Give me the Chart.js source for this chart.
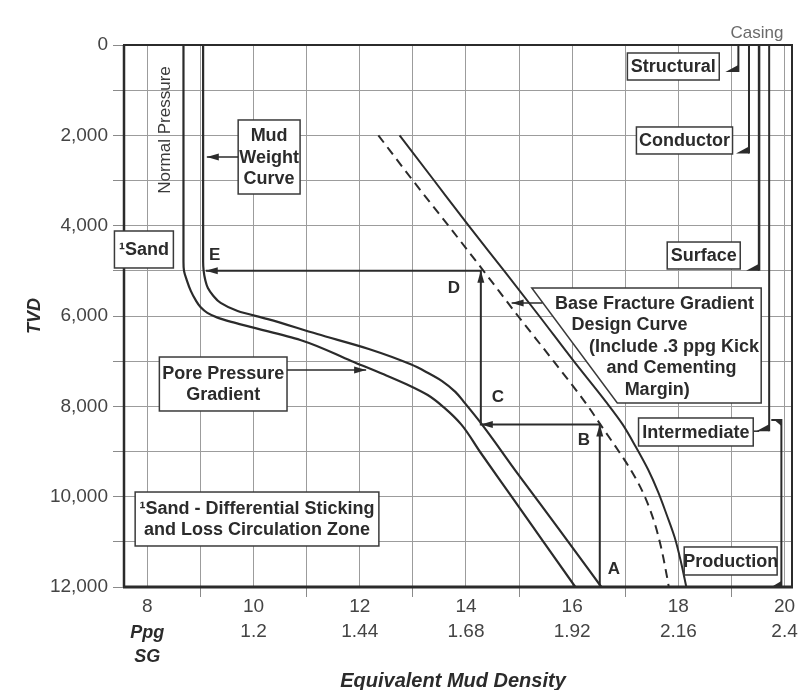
<!DOCTYPE html>
<html>
<head>
<meta charset="utf-8">
<script src="https://cdn.jsdelivr.net/npm/chart.js@4.4.0/dist/chart.umd.min.js"></script>
<style>
html,body{margin:0;padding:0;background:#fff;}
canvas{display:block;}
</style>
</head>
<body>
<canvas id="c" width="801" height="690"></canvas>
<script>
// ---------------- data ----------------
const ppgTickValues = [8, 10, 12, 14, 16, 18, 20];
const sgTickLabels  = ['', '1.2', '1.44', '1.68', '1.92', '2.16', '2.4'];
const depthTickValues = [0, 2000, 4000, 6000, 8000, 10000, 12000];

// Pore pressure gradient (ppg vs TVD ft)
const poreDepth = [0, 4800, 5000, 5200, 5450, 5650, 5800, 5930, 6030, 6130, 6240, 6530, 7000, 7290, 7510, 7750, 8040, 8400, 9000, 10000, 11000, 12000];
const porePpg   = [8.68, 8.68, 8.69, 8.74, 8.82, 8.91, 9.0, 9.13, 9.31, 9.58, 9.94, 10.88, 11.85, 12.45, 12.88, 13.28, 13.6, 13.91, 14.26, 14.86, 15.46, 16.06];

// Mud weight curve
const mudDepth = [0, 4800, 5000, 5200, 5380, 5550, 5710, 5890, 6070, 6400, 6730, 7070, 7250, 7440, 7680, 7930, 8400, 9500, 10700, 12000];
const mudPpg   = [9.05, 9.05, 9.06, 9.09, 9.14, 9.24, 9.38, 9.7, 10.27, 11.2, 12.17, 12.96, 13.27, 13.55, 13.8, 13.98, 14.3, 14.98, 15.74, 16.55];

// Fracture gradient (solid)
const fracDepth = [2000, 3000, 4000, 5000, 6000, 7000, 7890, 8400, 8900, 9400, 9900, 10400, 10900, 11450, 12000];
const fracPpg   = [12.75, 13.4, 14.05, 14.72, 15.38, 16.03, 16.63, 16.95, 17.2, 17.43, 17.62, 17.78, 17.93, 18.05, 18.15];

// Base fracture gradient design curve (dashed)
const designCurveDepth = [2000, 3000, 4000, 5000, 6000, 7000, 8000, 8400, 9000, 9400, 9900, 10500, 11100, 11800, 12000];
const designCurvePpg   = [12.35, 13.0, 13.67, 14.33, 14.98, 15.65, 16.3, 16.53, 16.88, 17.1, 17.33, 17.53, 17.67, 17.79, 17.82];

// Casing seat selection path A -> B -> C -> D -> E
const pathLabels = ['A', 'B', 'C', 'D', 'E'];
const pathPpg    = [16.52, 16.52, 14.28, 14.28, 9.1];
const pathDepth  = [12000, 8400, 8400, 5000, 5000];

// Casing strings
const casingNames = ['Structural', 'Conductor', 'Surface', 'Intermediate', 'Production'];
const casingTop   = [0, 0, 0, 0, 8300];
const casingShoe  = [600, 2400, 5000, 8550, 12000];

// ---------------- presentation ----------------
const FONT = '"Liberation Sans", Arial, Helvetica, sans-serif';
Chart.defaults.font.family = FONT;
const INK = '#2b2b2b';
const GRID = '#9c9c9c';
const casingLane = [19.13, 19.33, 19.52, 19.71, 19.94]; // schematic column positions

const pts = (xs, ys) => xs.map((v, i) => ({x: v, y: ys[i]}));

const curveStyle = {
  showLine: true, pointRadius: 0, borderColor: INK, borderWidth: 2.2,
  indexAxis: 'y', cubicInterpolationMode: 'monotone', fill: false
};

const datasets = [
  Object.assign({label: 'Pore Pressure Gradient', data: pts(porePpg, poreDepth)}, curveStyle),
  Object.assign({label: 'Mud Weight Curve', data: pts(mudPpg, mudDepth)}, curveStyle),
  Object.assign({label: 'Fracture Gradient', data: pts(fracPpg, fracDepth)}, curveStyle, {borderWidth: 2}),
  Object.assign({label: 'Base Fracture Gradient Design Curve', data: pts(designCurvePpg, designCurveDepth)}, curveStyle, {borderWidth: 2, borderDash: [9, 6]}),
  {label: 'Design path', data: pts(pathPpg, pathDepth), showLine: true, pointRadius: 0, borderColor: INK, borderWidth: 2, tension: 0}
];
casingNames.forEach((name, i) => {
  const lane = casingLane[i];
  const d = [];
  if (casingTop[i] > 0) d.push({x: lane - 0.19, y: casingTop[i]});
  d.push({x: lane, y: casingTop[i]});
  d.push({x: lane, y: casingShoe[i]});
  datasets.push({label: name + ' casing', data: d, showLine: true, pointRadius: 0, borderColor: INK, borderWidth: i === 2 ? 2.5 : 2, tension: 0});
});

// label boxes (in data units: ppg, ft)
const boxes = [
  {x0: 9.71, x1: 10.876, y0: 1660, y1: 3299, lines: ['Mud', 'Weight', 'Curve'], gap: 21.5},
  {x0: 8.226, x1: 10.63, y0: 6908, y1: 8103, lines: ['Pore Pressure', 'Gradient'], gap: 21},
  {x0: 7.38, x1: 8.49, y0: 4118, y1: 4937, lines: ['\u00B9Sand'], gap: 21},
  {x0: 7.77, x1: 12.36, y0: 9897, y1: 11092, lines: ['\u00B9Sand - Differential Sticking', 'and Loss Circulation Zone'], gap: 21},
  {x0: 17.04, x1: 18.77, y0: 177, y1: 775, lines: ['Structural'], gap: 21},
  {x0: 17.21, x1: 19.02, y0: 1815, y1: 2413, lines: ['Conductor'], gap: 21},
  {x0: 17.79, x1: 19.165, y0: 4362, y1: 4959, lines: ['Surface'], gap: 21},
  {x0: 17.25, x1: 19.41, y0: 8258, y1: 8878, lines: ['Intermediate'], gap: 21},
  {x0: 18.11, x1: 19.86, y0: 11114, y1: 11734, lines: ['Production'], gap: 21}
];
const fracBoxPoly = [[15.24, 5380], [19.56, 5380], [19.56, 7926], [16.85, 7926]];
const fracBoxText = [
  ['Base Fracture Gradient', 17.55, 5712],
  ['Design Curve', 17.08, 6177],
  ['(Include .3 ppg Kick', 17.92, 6664],
  ['and Cementing', 17.87, 7129],
  ['Margin)', 17.6, 7616]
];
const pointers = [
  [9.71, 2480, 9.12, 2480],
  [10.63, 7195, 12.12, 7195],
  [15.44, 5712, 14.86, 5712]
];
const letterOffsets = [[14, -18], [-16, 16], [17, -27], [-27, 17], [9, -16]];

function seg(ctx, x1, y1, x2, y2, w) {
  ctx.lineWidth = w; ctx.beginPath(); ctx.moveTo(x1, y1); ctx.lineTo(x2, y2); ctx.stroke();
}
function arrowHead(ctx, tx, ty, dx, dy, len, half) {
  const n = Math.hypot(dx, dy) || 1; dx /= n; dy /= n;
  const bx = tx - dx * len, by = ty - dy * len;
  ctx.beginPath();
  ctx.moveTo(tx, ty);
  ctx.lineTo(bx - dy * half, by + dx * half);
  ctx.lineTo(bx + dy * half, by - dx * half);
  ctx.closePath(); ctx.fill();
}
function tri(ctx, p) {
  ctx.beginPath(); ctx.moveTo(p[0], p[1]); ctx.lineTo(p[2], p[3]); ctx.lineTo(p[4], p[5]); ctx.closePath(); ctx.fill();
}

const decor = {
  id: 'decor',
  afterDatasetsDraw(chart) {
    const {ctx, chartArea: a} = chart;
    const xs = chart.scales.x, ys = chart.scales.y;
    const X = v => xs.getPixelForValue(v), Y = v => ys.getPixelForValue(v);
    ctx.save();
    ctx.strokeStyle = INK; ctx.fillStyle = INK; ctx.lineCap = 'butt';

    // frame
    seg(ctx, a.left - 1, a.top, a.right + 1, a.top, 2);
    seg(ctx, a.left, a.top, a.left, a.bottom, 2.5);
    seg(ctx, a.right, a.top, a.right, a.bottom, 2);
    seg(ctx, a.left - 1, a.bottom, a.right + 1, a.bottom, 3);

    // arrowheads on the design path
    for (let i = 1; i < pathPpg.length; i++) {
      const tx = X(pathPpg[i]), ty = Y(pathDepth[i]);
      arrowHead(ctx, tx, ty, tx - X(pathPpg[i - 1]), ty - Y(pathDepth[i - 1]), 12, 3.5);
    }

    // casing shoes
    casingNames.forEach((n, i) => {
      const cx = X(casingLane[i]), cy = Y(casingShoe[i]);
      const w = i === 4 ? 10 : 13, h = i === 4 ? 6 : 7;
      tri(ctx, [cx - w, cy, cx, cy, cx, cy - h]);
      if (casingTop[i] > 0) {
        const ty = Y(casingTop[i]);
        tri(ctx, [cx - 7, ty, cx, ty, cx, ty + 6]);
      }
    });
    // intermediate label connector
    seg(ctx, X(19.41), Y(8550), X(casingLane[3]) - 10, Y(8550), 1.5);

    // boxes
    ctx.textAlign = 'center'; ctx.textBaseline = 'middle';
    boxes.forEach(b => {
      const x0 = X(b.x0), x1 = X(b.x1), y0 = Y(b.y0), y1 = Y(b.y1);
      ctx.fillStyle = '#fff';
      ctx.fillRect(x0, y0, x1 - x0, y1 - y0);
      ctx.strokeStyle = '#3a3a3a'; ctx.lineWidth = 1.5;
      ctx.strokeRect(x0, y0, x1 - x0, y1 - y0);
      ctx.fillStyle = INK;
      ctx.font = 'bold 18px ' + FONT;
      const cx = (x0 + x1) / 2, cy = (y0 + y1) / 2;
      const n = b.lines.length;
      b.lines.forEach((t, k) => ctx.fillText(t, cx, cy + (k - (n - 1) / 2) * b.gap + 1));
    });

    // fracture design label (slanted box)
    ctx.beginPath();
    fracBoxPoly.forEach((p, k) => { const px = X(p[0]), py = Y(p[1]); if (k) ctx.lineTo(px, py); else ctx.moveTo(px, py); });
    ctx.closePath();
    ctx.fillStyle = '#fff'; ctx.fill();
    ctx.strokeStyle = '#3a3a3a'; ctx.lineWidth = 1.5; ctx.stroke();
    ctx.fillStyle = INK; ctx.font = 'bold 18px ' + FONT;
    fracBoxText.forEach(t => ctx.fillText(t[0], X(t[1]), Y(t[2]) + 1));

    // pointer arrows
    ctx.strokeStyle = INK; ctx.fillStyle = INK;
    pointers.forEach(p => {
      const x1 = X(p[0]), y1 = Y(p[1]), x2 = X(p[2]), y2 = Y(p[3]);
      seg(ctx, x1, y1, x2, y2, 1.5);
      arrowHead(ctx, x2, y2, x2 - x1, y2 - y1, 12, 3.5);
    });

    // path letters
    ctx.font = 'bold 17px ' + FONT;
    pathLabels.forEach((t, i) => ctx.fillText(t, X(pathPpg[i]) + letterOffsets[i][0], Y(pathDepth[i]) + letterOffsets[i][1]));

    // Normal Pressure (vertical)
    ctx.save();
    ctx.translate(X(8.34), Y(1882));
    ctx.rotate(-Math.PI / 2);
    ctx.font = '17px ' + FONT; ctx.fillStyle = '#3a3a3a';
    ctx.fillText('Normal Pressure', 0, 0);
    ctx.restore();

    // Casing header
    ctx.font = '17px ' + FONT; ctx.fillStyle = '#6a6a6a';
    ctx.fillText('Casing', X(19.48), a.top - 12);

    // axis titles
    ctx.fillStyle = INK;
    ctx.font = 'italic bold 18px ' + FONT;
    ctx.fillText('Ppg', X(8), a.bottom + 46);
    ctx.fillText('SG', X(8), a.bottom + 70);
    ctx.font = 'italic bold 20px ' + FONT;
    ctx.fillText('Equivalent Mud Density', (a.left + a.right) / 2 - 5, a.bottom + 94);
    ctx.save();
    ctx.translate(35, (a.top + a.bottom) / 2);
    ctx.rotate(-Math.PI / 2);
    ctx.font = 'italic bold 18px ' + FONT;
    ctx.fillText('TVD', 0, 0);
    ctx.restore();

    ctx.restore();
  }
};

new Chart(document.getElementById('c'), {
  type: 'scatter',
  data: {datasets},
  options: {
    responsive: false,
    animation: false,
    layout: {padding: {top: 45, right: 9, bottom: 0, left: 0}},
    plugins: {legend: {display: false}, tooltip: {enabled: false}},
    scales: {
      x: {
        type: 'linear', position: 'bottom', min: 7.56, max: 20.14,
        afterFit(s) { s.height = 103; },
        border: {display: false},
        grid: {
          color: GRID, lineWidth: 1, tickLength: 10,
          tickColor: c => (c.tick && Math.abs(Math.round(c.tick.value) % 2) === 1) ? '#8a8a8a' : 'rgba(0,0,0,0)'
        },
        ticks: {
          stepSize: 1, includeBounds: false, autoSkip: false, maxRotation: 0, minRotation: 0,
          padding: -3, color: '#444', font: {size: 19, lineHeight: 1.33},
          callback: v => {
            const i = ppgTickValues.indexOf(Math.round(v * 100) / 100);
            if (i < 0) return '';
            return sgTickLabels[i] ? [String(ppgTickValues[i]), sgTickLabels[i]] : String(ppgTickValues[i]);
          }
        }
      },
      y: {
        type: 'linear', reverse: true, min: 0, max: 12000,
        afterFit(s) { s.width = 124; },
        border: {display: false},
        grid: {color: GRID, lineWidth: 1, tickLength: 11, tickColor: '#8a8a8a'},
        ticks: {
          stepSize: 1000, autoSkip: false, padding: 5, color: '#444', font: {size: 19},
          callback: v => depthTickValues.includes(v) ? v.toLocaleString('en-US') : ''
        }
      }
    }
  },
  plugins: [decor]
});
</script>
</body>
</html>
